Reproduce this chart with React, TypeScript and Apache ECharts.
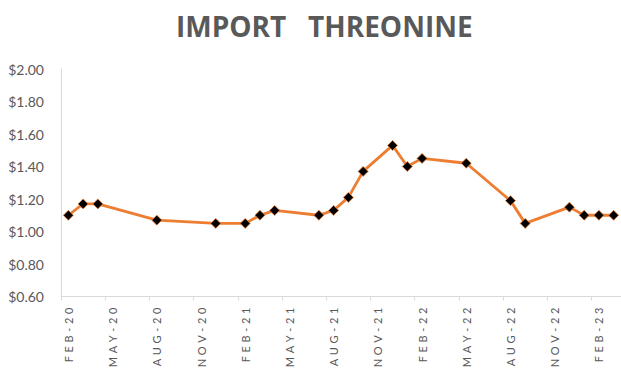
import React, { useEffect, useRef } from "react";
import * as echarts from "echarts";

const months = [
  "FEB-20", "MAR-20", "APR-20", "MAY-20", "JUN-20", "JUL-20", "AUG-20", "SEP-20", "OCT-20", "NOV-20", "DEC-20", "JAN-21",
  "FEB-21", "MAR-21", "APR-21", "MAY-21", "JUN-21", "JUL-21", "AUG-21", "SEP-21", "OCT-21", "NOV-21", "DEC-21", "JAN-22",
  "FEB-22", "MAR-22", "APR-22", "MAY-22", "JUN-22", "JUL-22", "AUG-22", "SEP-22", "OCT-22", "NOV-22", "DEC-22", "JAN-23",
  "FEB-23", "MAR-23",
];

const pointMonths = [
  "FEB-20", "MAR-20", "APR-20", "AUG-20", "DEC-20", "FEB-21", "MAR-21", "APR-21", "JUL-21", "AUG-21", "SEP-21",
  "OCT-21", "DEC-21", "JAN-22", "FEB-22", "MAY-22", "AUG-22", "SEP-22", "DEC-22", "JAN-23", "FEB-23", "MAR-23",
];

const prices = [
  1.10, 1.17, 1.17, 1.07, 1.05, 1.05, 1.10, 1.13, 1.10, 1.13, 1.21,
  1.37, 1.53, 1.40, 1.45, 1.42, 1.19, 1.05, 1.15, 1.10, 1.10, 1.10,
];

const yMin = 0.6;
const yMax = 2.0;
const yStep = 0.2;

const titleText = "IMPORT\u00a0\u00a0\u00a0THREONINE";

export default function App() {
  const ref = useRef<HTMLDivElement>(null);

  useEffect(() => {
    if (!ref.current) return;
    const chart = echarts.init(ref.current, undefined, { renderer: "svg" });
    const gray = "#595959";
    const axisGray = "#d9d9d9";
    chart.setOption({
      animation: false,
      backgroundColor: "#ffffff",
      title: {
        text: titleText,
        left: 171,
        top: 7,
        textStyle: {
          fontFamily: "Open Sans",
          fontWeight: "bold",
          fontSize: 28,
          color: gray,
        },
      },
      grid: { left: 61, right: -3, top: 69, bottom: 77.5, containLabel: false },
      xAxis: {
        type: "category",
        data: months,
        boundaryGap: true,
        axisLine: { show: true, lineStyle: { color: axisGray, width: 1 } },
        axisTick: { show: true, interval: 2, length: 4, alignWithLabel: false, lineStyle: { color: axisGray } },
        axisLabel: {
          interval: 2,
          rotate: 90,
          margin: 11,
          color: gray,
          fontFamily: "Lato",
          fontSize: 11,
          formatter: (v: string) => v.split("").join("\u2004"),
        },
        splitLine: { show: false },
      },
      yAxis: {
        type: "value",
        min: yMin,
        max: yMax,
        interval: yStep,
        axisLine: { show: true, lineStyle: { color: axisGray, width: 1 } },
        axisTick: { show: false },
        splitLine: { show: false },
        axisLabel: {
          margin: 17,
          color: gray,
          fontFamily: "Lato",
          fontSize: 14,
          formatter: (v: number) => "$" + v.toFixed(2),
        },
      },
      series: [
        {
          type: "line",
          data: pointMonths.map((m, i) => [m, prices[i]]),
          lineStyle: { color: "#ED7D31", width: 2.8 },
          symbol: "diamond",
          symbolSize: 10,
          itemStyle: { color: "#000000", borderColor: "#ED7D31", borderWidth: 0.8 },
          showAllSymbol: true,
        },
      ],
    });
    return () => chart.dispose();
  }, []);

  return (
    <div
      ref={ref}
      style={{ position: "absolute", left: 0, top: 0, width: 621, height: 374 }}
    />
  );
}
